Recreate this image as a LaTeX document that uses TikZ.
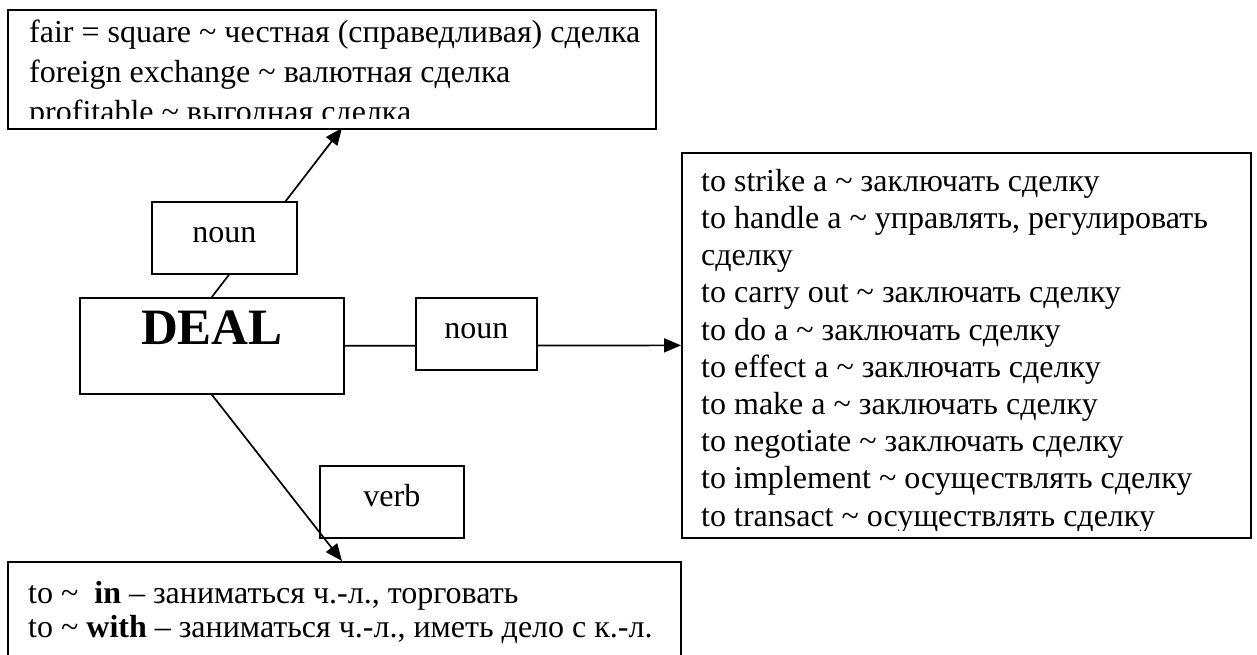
\documentclass[tikz,border=0pt]{standalone}
\usepackage{fontspec}
\setmainfont{Liberation Serif}
\usetikzlibrary{arrows.meta}
\newcommand{\tld}{\textasciitilde}
\begin{document}
\begin{tikzpicture}[x=1pt,y=-1pt,
  box/.style={draw, line width=1.7pt, fill=white, inner sep=0pt, anchor=north west},
  txt/.style={align=left, inner sep=0pt, anchor=north west},
  lbl/.style={box, font=\fontsize{32}{37}\selectfont, text height=24pt, text depth=14pt},
  conn/.style={line width=1.7pt},
  arr/.style={conn, -{Triangle[length=17pt,width=14pt]}}]
\clip (0,0) rectangle (1257,655);
\fill[white] (0,0) rectangle (1257,655);
% main boxes
\node[box, minimum width=648pt, minimum height=119pt] (topbox) at (7,9) {};
\node[box, minimum width=264pt, minimum height=96pt,
      font=\fontsize{51}{56}\bfseries\selectfont, text height=34pt, text depth=36pt] (deal) at (79,297) {DEAL};
\node[box, minimum width=569pt, minimum height=385pt] (rightbox) at (681,152) {};
\node[box, minimum width=673pt, minimum height=130pt] (lowbox) at (7,561) {};
% texts inside boxes (clipped by the box interiors)
\begin{scope}
  \clip (9,11) rectangle (653,119);
  \node[txt, font=\fontsize{32}{40}\selectfont] (toptext) at (29,14) {%
    \strut fair = square \tld{} честная (справедливая) сделка\\
    \strut foreign exchange \tld{} валютная сделка\\
    \strut profitable \tld{} выгодная сделка};
\end{scope}
\begin{scope}
  \clip (683,154) rectangle (1248,530);
  \node[txt, font=\fontsize{32}{37.2}\selectfont] (righttext) at (701,165) {%
    \strut to strike a \tld{} заключать сделку\\
    \strut to handle a \tld{} управлять, регулировать\\
    \strut сделку\\
    \strut to carry out \tld{} заключать сделку\\
    \strut to do a \tld{} заключать сделку\\
    \strut to effect a \tld{} заключать сделку\\
    \strut to make a \tld{} заключать сделку\\
    \strut to negotiate \tld{} заключать сделку\\
    \strut to implement \tld{} осуществлять сделку\\
    \strut to transact \tld{} осуществлять сделку};
\end{scope}
\node[txt, font=\fontsize{32}{34}\selectfont] (lowtext) at (28,579.2) {%
  \strut to \tld{}\ \ \textbf{in} – заниматься ч.-л., торговать\\
  \strut to \tld{} \textbf{with} – заниматься ч.-л., иметь дело с к.-л.};
% verb label box (lies under its connector)
\node[lbl, minimum width=144pt, minimum height=72pt] (verb) at (319,465) {verb};
% connector end points on the box borders
\coordinate (topIn) at (342,128);
\coordinate (lowIn) at (342,561);
% connectors passing under the noun labels
\draw[arr] (deal.north) -- (topIn);
\draw[arr] (deal.east) -- (rightbox.west);
\node[lbl, minimum width=145pt, minimum height=72pt] (nounA) at (151,201) {noun};
\node[lbl, minimum width=121pt, minimum height=72pt] (nounB) at (415,297) {noun};
% connector over the verb label
\draw[arr] (deal.south) -- (lowIn);
\end{tikzpicture}
\end{document}
